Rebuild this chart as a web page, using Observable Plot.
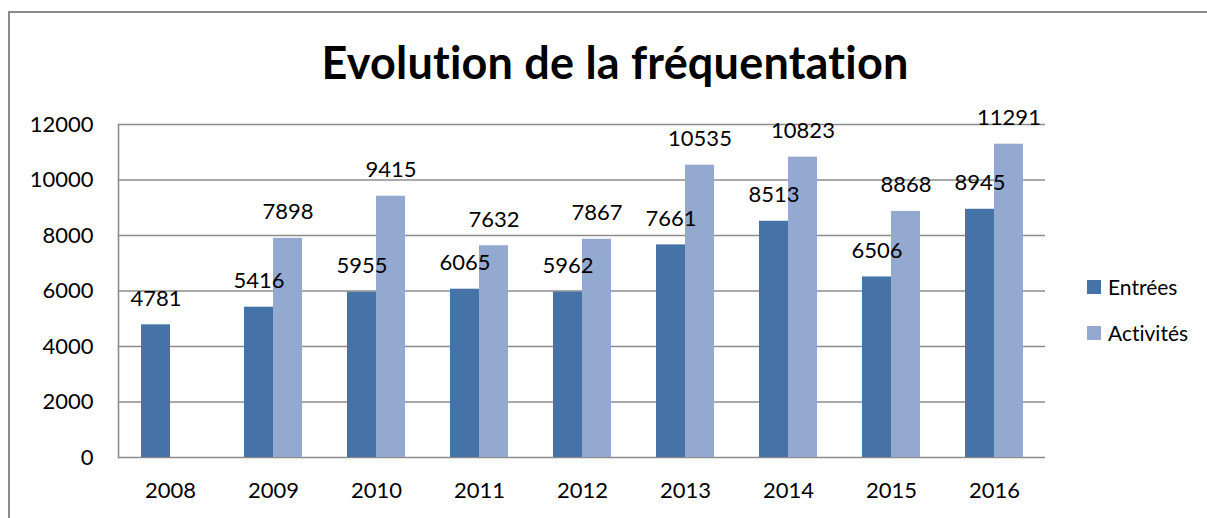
<!DOCTYPE html>
<html>
<head>
<meta charset="utf-8">
<script src="https://cdn.jsdelivr.net/npm/d3@7"></script>
<script src="https://cdn.jsdelivr.net/npm/@observablehq/plot@0.6"></script>
<style>
  html, body { margin: 0; background: #fff; overflow: hidden; }
  #wrap { position: relative; width: 1207px; height: 518px; overflow: hidden; font-family: Lato, "Open Sans", sans-serif; font-variant-ligatures: none; }
  #frame { position: absolute; left: 8px; top: 11px; width: 1300px; height: 600px; border: 2px solid #8a8a8a; box-sizing: border-box; }
  #title { position: absolute; left: 0; top: 40px; width: 1230px; text-align: center; font-size: 45px; font-weight: bold; line-height: 1; color: #000; letter-spacing: 0.2px; }
  #chart { position: absolute; left: 0; top: 0; }
  .leg { position: absolute; left: 1087px; font-size: 21px; line-height: 1; color: #000; display: flex; align-items: center; }
  .leg span.sw { display: inline-block; width: 14px; height: 14px; margin-right: 7px; }
  svg text { font-variant-ligatures: none; }
</style>
</head>
<body>
<div id="wrap">
  <div id="frame"></div>
  <div id="chart"></div>
  <div id="title">Evolution de la fréquentation</div>
  <div class="leg" style="top:276px"><span class="sw" style="background:#4572A7"></span>Entrées</div>
  <div class="leg" style="top:322px"><span class="sw" style="background:#93A9CF"></span>Activités</div>
</div>
<script>
const years = ["2008", "2009", "2010", "2011", "2012", "2013", "2014", "2015", "2016"];
const entrees = [4781, 5416, 5955, 6065, 5962, 7661, 8513, 6506, 8945];
const activites = [null, 7898, 9415, 7632, 7867, 10535, 10823, 8868, 11291];
const yTicks = [0, 2000, 4000, 6000, 8000, 10000, 12000];
const colEntrees = "#4572A7";
const colActivites = "#93A9CF";

const dataE = years.map((y, i) => ({year: y, value: entrees[i]}));
const dataA = years.map((y, i) => ({year: y, value: activites[i]})).filter(d => d.value != null);

const W = 1207, H = 518;
const mL = 118, mR = 162, mT = 124, mB = 61;
const step = (W - mL - mR) / years.length;
const pad = 0.437;
const bw = step * (1 - pad);
const half = bw / 2;

const grid = "#8c8c8c";
const plot = Plot.plot({
  width: W,
  height: H,
  marginLeft: mL,
  marginRight: mR,
  marginTop: mT,
  marginBottom: mB,
  style: {fontFamily: "Lato, 'Open Sans', sans-serif", fontSize: "22px", color: "#000", background: "transparent", overflow: "visible"},
  x: {domain: years, paddingInner: pad, paddingOuter: pad / 2, label: null},
  y: {domain: [0, 12000], label: null},
  marks: [
    Plot.ruleY(yTicks, {stroke: grid, strokeWidth: 1.6}),
    Plot.frame({anchor: "left", stroke: grid, strokeWidth: 1.6}),
    Plot.barY(dataE, {x: "year", y: "value", fill: colEntrees, insetRight: half}),
    Plot.barY(dataA, {x: "year", y: "value", fill: colActivites, insetLeft: half}),
    Plot.text(dataE, {x: "year", y: "value", text: d => String(d.value), dx: -half / 2, dy: -19, lineAnchor: "bottom", fill: "#000", fontSize: 22}),
    Plot.text(dataA, {x: "year", y: "value", text: d => String(d.value), dx: half / 2, dy: -19, lineAnchor: "bottom", fill: "#000", fontSize: 22}),
    Plot.axisY({ticks: yTicks, tickSize: 0, tickPadding: 25, tickFormat: d => String(d), fontSize: 22}),
    Plot.axisX({tickSize: 0, tickPadding: 25, fontSize: 22})
  ]
});
document.getElementById("chart").appendChild(plot);
</script>
</body>
</html>
